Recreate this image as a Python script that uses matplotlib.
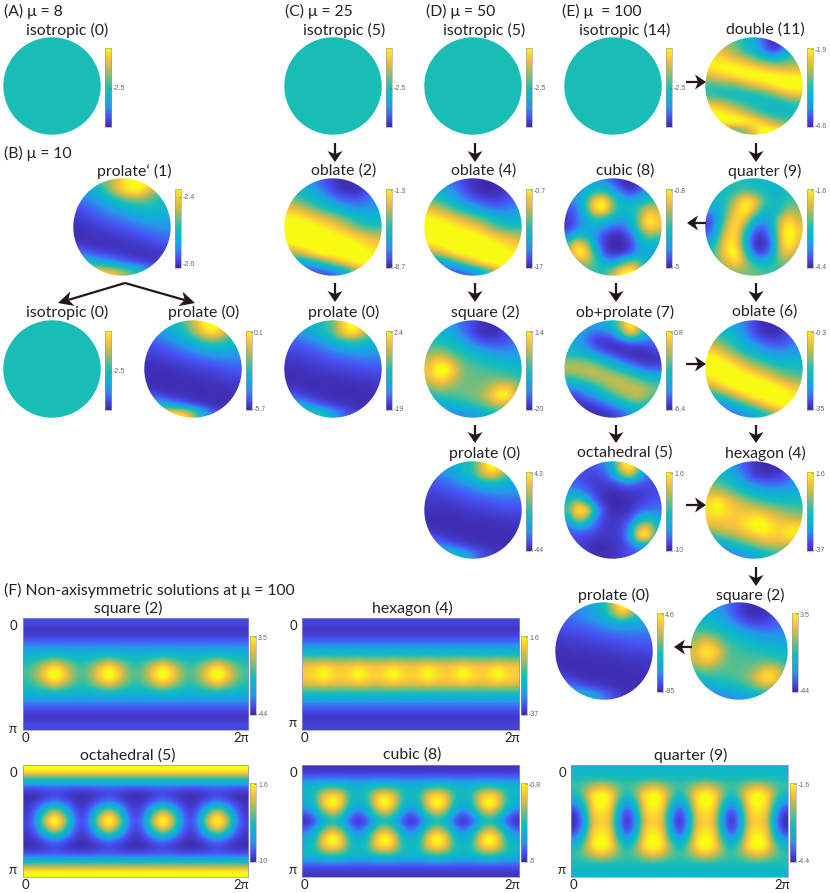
import numpy as np
import matplotlib.pyplot as plt
from matplotlib.colors import LinearSegmentedColormap
from matplotlib.patches import Circle, Polygon

plt.rcParams["font.family"] = ["Lato", "DejaVu Sans"]

W, H = 830, 893
DARK = "#231815"
PEAK = 95  # levels above this are full yellow

# parula-like colours as they look in the picture
parula = LinearSegmentedColormap.from_list("parula", [
    (0.2422, 0.1504, 0.6603), (0.2810, 0.3228, 0.9579), (0.1540, 0.5902, 0.9218),
    (0.0500, 0.7000, 0.8300), (0.1000, 0.7450, 0.7150), (0.4420, 0.7481, 0.5033),
    (0.7809, 0.7350, 0.2902), (0.9932, 0.7746, 0.2374), (0.9769, 0.9839, 0.0805),
])

# every level below is 0 (colorbar bottom) .. 100 (colorbar top)
ISO_LEVEL = 47.5

PROLATE_B1 = [
    [40, 45, 50, 60, 72, 86, 96, 100, 95, 85, 75],
    [25, 30, 36, 48, 68, 84, 94, 92, 75, 62, 55],
    [16, 20, 25, 31, 40, 50, 58, 60, 56, 48, 44],
    [10, 13, 17, 22, 27, 33, 38, 42, 44, 42, 38],
    [6, 8, 11, 14, 17, 20, 24, 28, 31, 32, 30],
    [3, 4, 6, 8, 10, 12, 15, 18, 21, 23, 24],
    [2, 3, 4, 4, 5, 7, 9, 11, 13, 16, 17],
    [5, 4, 3, 3, 3, 3, 4, 5, 7, 9, 11],
    [20, 16, 12, 9, 7, 5, 4, 3, 3, 4, 5],
    [45, 42, 36, 30, 24, 18, 13, 9, 6, 5, 5],
    [90, 90, 88, 85, 80, 70, 58, 45, 30, 20, 12],
]
PROLATE_B0 = [
    [30, 32, 36, 45, 55, 70, 90, 100, 95, 85, 70],
    [20, 24, 28, 34, 44, 60, 78, 90, 82, 62, 50],
    [12, 15, 18, 23, 30, 38, 48, 54, 52, 45, 40],
    [8, 9, 11, 14, 17, 22, 27, 30, 33, 30, 28],
    [4, 5, 7, 8, 10, 12, 14, 16, 18, 20, 20],
    [2, 3, 3, 4, 5, 6, 8, 9, 11, 12, 13],
    [2, 2, 2, 2, 3, 3, 4, 5, 6, 7, 8],
    [3, 2, 2, 2, 2, 2, 2, 3, 3, 4, 5],
    [12, 9, 6, 4, 3, 2, 2, 2, 2, 2, 3],
    [40, 38, 30, 22, 15, 9, 5, 3, 2, 2, 2],
    [95, 95, 95, 95, 90, 70, 40, 20, 10, 5, 3],
]
OBLATE_C = [
    [30, 28, 25, 20, 12, 6, 2, 2, 4, 10, 15],
    [45, 42, 38, 30, 20, 10, 4, 2, 4, 12, 20],
    [62, 58, 50, 40, 32, 24, 17, 14, 14, 18, 24],
    [82, 78, 70, 60, 50, 42, 34, 28, 24, 26, 30],
    [96, 94, 90, 84, 76, 70, 60, 50, 42, 38, 38],
    [100, 100, 98, 96, 92, 86, 78, 68, 56, 50, 50],
    [100, 100, 100, 100, 100, 98, 94, 88, 82, 76, 72],
    [92, 96, 100, 100, 100, 100, 100, 98, 94, 88, 84],
    [60, 70, 80, 92, 100, 100, 100, 100, 100, 96, 92],
    [20, 25, 32, 38, 52, 68, 82, 92, 96, 96, 95],
    [5, 6, 8, 10, 12, 16, 25, 45, 70, 90, 95],
]
PROLATE_C = [
    [25, 28, 32, 40, 50, 58, 82, 100, 92, 75, 60],
    [20, 24, 28, 34, 44, 56, 80, 92, 82, 60, 48],
    [12, 14, 17, 22, 28, 36, 44, 48, 46, 40, 36],
    [8, 9, 11, 13, 16, 20, 24, 27, 28, 27, 26],
    [5, 6, 7, 8, 10, 12, 14, 15, 17, 18, 18],
    [3, 3, 4, 5, 6, 7, 8, 9, 10, 11, 12],
    [2, 2, 2, 3, 3, 3, 4, 5, 6, 6, 7],
    [4, 3, 2, 2, 2, 2, 2, 2, 3, 3, 4],
    [14, 10, 7, 4, 3, 2, 2, 2, 2, 2, 3],
    [35, 30, 24, 16, 10, 6, 4, 3, 2, 2, 2],
    [75, 70, 62, 55, 45, 30, 18, 10, 6, 4, 3],
]
OBLATE_D = [
    [25, 22, 18, 14, 8, 3, 1, 1, 3, 8, 12],
    [40, 35, 30, 22, 12, 5, 2, 1, 2, 8, 14],
    [58, 52, 44, 32, 22, 15, 10, 8, 8, 12, 18],
    [80, 74, 64, 52, 42, 34, 26, 20, 18, 20, 24],
    [95, 92, 87, 80, 72, 64, 54, 44, 36, 32, 34],
    [100, 100, 97, 94, 90, 84, 76, 64, 54, 48, 48],
    [100, 100, 100, 100, 100, 98, 94, 88, 80, 74, 70],
    [90, 95, 100, 100, 100, 100, 100, 98, 94, 88, 84],
    [58, 68, 80, 92, 100, 100, 100, 100, 100, 96, 94],
    [20, 24, 32, 45, 62, 78, 92, 100, 100, 100, 98],
    [5, 6, 8, 10, 14, 20, 32, 52, 75, 92, 95],
]
SQUARE_D = [
    [30, 28, 26, 22, 15, 8, 3, 2, 3, 8, 12],
    [40, 38, 34, 28, 18, 8, 3, 2, 4, 10, 15],
    [50, 48, 44, 38, 30, 20, 12, 10, 10, 14, 18],
    [60, 62, 58, 50, 44, 36, 30, 25, 22, 22, 24],
    [72, 85, 80, 65, 54, 50, 44, 40, 36, 34, 34],
    [80, 98, 100, 80, 60, 56, 54, 52, 48, 46, 44],
    [78, 90, 88, 72, 60, 58, 58, 58, 58, 56, 50],
    [60, 70, 68, 62, 60, 60, 62, 70, 82, 82, 66],
    [44, 50, 52, 54, 58, 60, 66, 82, 98, 95, 70],
    [28, 32, 36, 40, 44, 50, 56, 66, 74, 70, 55],
    [12, 14, 18, 22, 24, 26, 32, 38, 42, 40, 35],
]
PROLATE_D = [
    [22, 24, 28, 34, 42, 50, 78, 100, 90, 70, 55],
    [18, 21, 25, 31, 40, 50, 72, 86, 72, 52, 42],
    [11, 13, 15, 19, 24, 30, 38, 42, 40, 34, 30],
    [8, 8, 10, 12, 14, 17, 20, 23, 24, 24, 23],
    [5, 5, 6, 7, 9, 10, 12, 13, 15, 16, 16],
    [3, 3, 3, 4, 5, 6, 7, 8, 9, 10, 10],
    [2, 2, 2, 2, 3, 3, 3, 4, 5, 5, 6],
    [3, 2, 2, 2, 2, 2, 2, 2, 2, 3, 3],
    [11, 8, 5, 3, 2, 2, 2, 2, 2, 2, 2],
    [28, 24, 18, 12, 8, 5, 3, 2, 2, 2, 2],
    [55, 52, 48, 42, 35, 22, 12, 7, 4, 3, 2],
]
DOUBLE_E = [
    [60, 60, 60, 55, 45, 32, 15, 2, 5, 25, 40],
    [80, 78, 72, 62, 48, 38, 20, 6, 14, 36, 48],
    [92, 90, 85, 80, 72, 62, 52, 45, 46, 54, 62],
    [90, 96, 98, 98, 94, 90, 84, 78, 74, 74, 74],
    [72, 78, 84, 90, 96, 98, 100, 100, 98, 96, 94],
    [50, 52, 54, 58, 66, 74, 82, 90, 96, 100, 100],
    [50, 46, 44, 42, 42, 44, 48, 56, 68, 78, 80],
    [80, 76, 68, 58, 50, 44, 42, 40, 42, 46, 50],
    [98, 96, 90, 84, 72, 60, 50, 44, 42, 42, 44],
    [100, 100, 100, 100, 100, 94, 82, 70, 60, 52, 48],
    [50, 50, 52, 55, 60, 80, 100, 100, 95, 80, 60],
]
QUARTER_E = [
    [50, 50, 50, 48, 46, 44, 42, 40, 40, 42, 42],
    [50, 45, 45, 50, 56, 52, 44, 40, 40, 45, 45],
    [42, 40, 50, 72, 92, 86, 58, 44, 44, 52, 55],
    [28, 32, 58, 82, 98, 78, 48, 38, 46, 65, 62],
    [10, 30, 65, 88, 84, 46, 28, 38, 70, 85, 70],
    [8, 38, 75, 92, 58, 22, 14, 32, 80, 98, 80],
    [18, 50, 85, 90, 42, 8, 4, 24, 82, 100, 82],
    [32, 62, 92, 90, 40, 4, 1, 16, 78, 96, 76],
    [45, 65, 90, 100, 56, 16, 8, 28, 72, 80, 60],
    [50, 62, 75, 88, 70, 46, 36, 46, 60, 60, 50],
    [50, 55, 60, 62, 62, 60, 55, 52, 50, 48, 45],
]
CUBIC_E = [
    [35, 35, 32, 28, 22, 12, 3, 1, 5, 20, 30],
    [30, 28, 32, 45, 48, 32, 15, 5, 15, 30, 35],
    [22, 24, 50, 88, 92, 58, 35, 32, 38, 45, 50],
    [12, 18, 50, 92, 98, 60, 42, 42, 55, 78, 70],
    [6, 16, 32, 52, 50, 36, 32, 36, 65, 96, 82],
    [4, 18, 30, 32, 24, 14, 14, 28, 62, 92, 80],
    [22, 45, 42, 24, 8, 2, 3, 14, 40, 60, 55],
    [60, 92, 72, 30, 6, 0, 1, 6, 28, 40, 35],
    [65, 95, 90, 45, 12, 3, 5, 14, 32, 34, 25],
    [50, 65, 70, 55, 34, 28, 50, 68, 55, 34, 20],
    [40, 45, 48, 48, 50, 70, 92, 100, 80, 35, 20],
]
OBPROLATE_E = [
    [30, 30, 30, 30, 32, 45, 70, 100, 70, 45, 35],
    [30, 28, 22, 14, 16, 22, 55, 85, 60, 30, 25],
    [35, 30, 18, 6, 3, 5, 8, 14, 14, 15, 18],
    [40, 35, 30, 20, 10, 4, 2, 2, 2, 4, 8],
    [60, 60, 55, 48, 35, 25, 15, 8, 3, 2, 3],
    [72, 72, 72, 70, 62, 52, 42, 32, 22, 14, 14],
    [50, 55, 62, 68, 72, 72, 68, 60, 50, 42, 40],
    [25, 28, 36, 45, 58, 68, 72, 72, 70, 62, 58],
    [6, 10, 18, 26, 38, 50, 62, 70, 72, 62, 55],
    [3, 3, 4, 8, 14, 24, 34, 45, 50, 42, 38],
    [2, 2, 2, 2, 3, 6, 12, 22, 30, 30, 30],
]
OBLATE_E = [
    [40, 38, 34, 28, 18, 8, 2, 1, 3, 10, 18],
    [50, 48, 42, 34, 22, 10, 4, 2, 4, 12, 20],
    [68, 62, 52, 42, 32, 22, 14, 10, 10, 15, 22],
    [88, 80, 68, 56, 45, 36, 28, 24, 22, 24, 28],
    [100, 98, 88, 78, 66, 56, 48, 40, 36, 36, 38],
    [100, 100, 100, 94, 85, 76, 68, 60, 52, 50, 48],
    [90, 95, 100, 100, 100, 96, 90, 80, 70, 62, 58],
    [70, 80, 92, 98, 100, 100, 100, 100, 94, 84, 78],
    [42, 48, 60, 75, 88, 98, 100, 100, 100, 96, 90],
    [20, 22, 28, 38, 52, 66, 80, 90, 96, 96, 90],
    [8, 10, 14, 18, 24, 30, 42, 58, 72, 80, 80],
]
OCTAHEDRAL_E = [
    [12, 12, 12, 14, 20, 40, 85, 100, 60, 25, 15],
    [10, 10, 8, 8, 12, 28, 65, 80, 42, 15, 12],
    [14, 14, 10, 6, 6, 8, 14, 18, 12, 10, 10],
    [28, 25, 16, 8, 3, 2, 3, 5, 6, 8, 10],
    [45, 65, 40, 12, 4, 1, 1, 3, 6, 10, 12],
    [55, 98, 95, 38, 8, 2, 2, 4, 12, 18, 18],
    [35, 72, 60, 22, 8, 4, 6, 12, 35, 45, 35],
    [14, 25, 22, 12, 6, 5, 8, 28, 80, 82, 45],
    [8, 10, 8, 6, 4, 5, 8, 32, 95, 92, 38],
    [8, 8, 5, 2, 1, 3, 6, 14, 30, 28, 18],
    [8, 8, 6, 3, 2, 4, 8, 10, 12, 14, 12],
]
HEXAGON_E = [
    [35, 32, 28, 22, 12, 5, 2, 1, 3, 10, 18],
    [45, 42, 36, 28, 16, 6, 3, 3, 6, 14, 22],
    [60, 55, 48, 38, 28, 20, 16, 15, 16, 20, 26],
    [72, 72, 64, 55, 45, 38, 33, 30, 30, 32, 35],
    [88, 95, 84, 74, 66, 58, 52, 48, 44, 44, 44],
    [90, 96, 88, 82, 80, 78, 74, 68, 62, 58, 56],
    [85, 86, 84, 84, 88, 94, 92, 84, 78, 74, 70],
    [70, 74, 78, 82, 88, 96, 100, 92, 86, 92, 92],
    [50, 54, 60, 66, 74, 80, 85, 85, 85, 92, 90],
    [25, 28, 34, 42, 50, 58, 66, 70, 70, 68, 66],
    [10, 12, 15, 20, 25, 30, 38, 44, 48, 48, 48],
]
PROLATE_E = [
    [18, 20, 22, 26, 32, 42, 72, 100, 88, 62, 45],
    [15, 17, 20, 24, 30, 40, 58, 76, 62, 42, 34],
    [12, 13, 15, 17, 20, 24, 28, 31, 30, 27, 25],
    [8, 9, 10, 11, 13, 15, 17, 18, 19, 19, 19],
    [5, 6, 6, 7, 8, 9, 10, 11, 12, 13, 13],
    [3, 3, 4, 4, 5, 5, 6, 7, 8, 8, 9],
    [2, 2, 2, 2, 3, 3, 3, 4, 4, 5, 5],
    [3, 2, 2, 2, 2, 2, 2, 2, 3, 3, 4],
    [9, 7, 4, 3, 2, 2, 2, 2, 2, 2, 3],
    [22, 20, 15, 10, 7, 5, 3, 2, 2, 2, 2],
    [50, 48, 42, 36, 30, 20, 11, 6, 4, 3, 2],
]
SQUARE_E = [
    [30, 28, 26, 22, 15, 8, 3, 2, 3, 8, 12],
    [38, 36, 32, 28, 18, 8, 3, 2, 4, 10, 15],
    [46, 44, 42, 36, 28, 20, 12, 10, 10, 14, 18],
    [56, 58, 54, 48, 42, 34, 28, 24, 22, 22, 24],
    [66, 80, 76, 60, 50, 46, 40, 36, 34, 32, 32],
    [76, 92, 92, 74, 56, 52, 50, 48, 44, 42, 40],
    [72, 84, 82, 66, 56, 54, 54, 54, 54, 52, 46],
    [56, 64, 62, 58, 56, 56, 58, 66, 78, 78, 62],
    [40, 46, 48, 50, 52, 56, 62, 78, 96, 90, 66],
    [26, 30, 34, 38, 40, 46, 52, 62, 70, 66, 52],
    [10, 12, 16, 20, 22, 24, 30, 36, 40, 38, 34],
]

# unrolled maps, theta from top to bottom and phi from left to right
MAP_SQUARE = [
    [10, 10, 10, 10, 10, 10, 10, 10, 10, 10, 10, 10, 10, 10, 10, 10, 10, 10, 10, 10, 10, 10, 10, 10, 10],
    [3, 3, 3, 3, 3, 3, 3, 3, 3, 3, 3, 3, 3, 3, 3, 3, 3, 3, 3, 3, 3, 3, 3, 3, 3],
    [11, 11, 11, 11, 11, 11, 11, 11, 11, 11, 11, 11, 11, 11, 11, 11, 11, 11, 11, 11, 11, 11, 11, 11, 11],
    [25, 25, 25, 25, 25, 25, 25, 25, 25, 25, 25, 25, 25, 25, 25, 25, 25, 25, 25, 25, 25, 25, 25, 25, 25],
    [40, 42, 45, 48, 45, 42, 40, 42, 45, 48, 45, 42, 40, 42, 45, 48, 45, 42, 40, 42, 45, 48, 45, 42, 40],
    [50, 58, 74, 88, 74, 58, 50, 58, 74, 88, 74, 58, 50, 58, 74, 88, 74, 58, 50, 58, 74, 88, 74, 58, 50],
    [54, 66, 90, 104, 90, 66, 54, 66, 90, 104, 90, 66, 54, 66, 90, 104, 90, 66, 54, 66, 90, 104, 90, 66, 54],
    [50, 58, 74, 88, 74, 58, 50, 58, 74, 88, 74, 58, 50, 58, 74, 88, 74, 58, 50, 58, 74, 88, 74, 58, 50],
    [40, 42, 45, 48, 45, 42, 40, 42, 45, 48, 45, 42, 40, 42, 45, 48, 45, 42, 40, 42, 45, 48, 45, 42, 40],
    [25, 25, 25, 25, 25, 25, 25, 25, 25, 25, 25, 25, 25, 25, 25, 25, 25, 25, 25, 25, 25, 25, 25, 25, 25],
    [11, 11, 11, 11, 11, 11, 11, 11, 11, 11, 11, 11, 11, 11, 11, 11, 11, 11, 11, 11, 11, 11, 11, 11, 11],
    [3, 3, 3, 3, 3, 3, 3, 3, 3, 3, 3, 3, 3, 3, 3, 3, 3, 3, 3, 3, 3, 3, 3, 3, 3],
    [10, 10, 10, 10, 10, 10, 10, 10, 10, 10, 10, 10, 10, 10, 10, 10, 10, 10, 10, 10, 10, 10, 10, 10, 10],
]
MAP_HEXAGON = [
    [8, 8, 8, 8, 8, 8, 8, 8, 8, 8, 8, 8, 8, 8, 8, 8, 8, 8, 8, 8, 8, 8, 8, 8, 8],
    [4, 4, 4, 4, 4, 4, 4, 4, 4, 4, 4, 4, 4, 4, 4, 4, 4, 4, 4, 4, 4, 4, 4, 4, 4],
    [12, 12, 12, 12, 12, 12, 12, 12, 12, 12, 12, 12, 12, 12, 12, 12, 12, 12, 12, 12, 12, 12, 12, 12, 12],
    [28, 28, 28, 28, 28, 28, 28, 28, 28, 28, 28, 28, 28, 28, 28, 28, 28, 28, 28, 28, 28, 28, 28, 28, 28],
    [52, 52, 53, 52, 52, 52, 53, 52, 52, 52, 53, 52, 52, 52, 53, 52, 52, 52, 53, 52, 52, 52, 53, 52, 52],
    [80, 82, 86, 82, 80, 82, 86, 82, 80, 82, 86, 82, 80, 82, 86, 82, 80, 82, 86, 82, 80, 82, 86, 82, 80],
    [86, 90, 100, 90, 86, 90, 100, 90, 86, 90, 100, 90, 86, 90, 100, 90, 86, 90, 100, 90, 86, 90, 100, 90, 86],
    [80, 82, 86, 82, 80, 82, 86, 82, 80, 82, 86, 82, 80, 82, 86, 82, 80, 82, 86, 82, 80, 82, 86, 82, 80],
    [52, 52, 53, 52, 52, 52, 53, 52, 52, 52, 53, 52, 52, 52, 53, 52, 52, 52, 53, 52, 52, 52, 53, 52, 52],
    [28, 28, 28, 28, 28, 28, 28, 28, 28, 28, 28, 28, 28, 28, 28, 28, 28, 28, 28, 28, 28, 28, 28, 28, 28],
    [12, 12, 12, 12, 12, 12, 12, 12, 12, 12, 12, 12, 12, 12, 12, 12, 12, 12, 12, 12, 12, 12, 12, 12, 12],
    [4, 4, 4, 4, 4, 4, 4, 4, 4, 4, 4, 4, 4, 4, 4, 4, 4, 4, 4, 4, 4, 4, 4, 4, 4],
    [8, 8, 8, 8, 8, 8, 8, 8, 8, 8, 8, 8, 8, 8, 8, 8, 8, 8, 8, 8, 8, 8, 8, 8, 8],
]
MAP_OCTAHEDRAL = [
    [100, 100, 100, 100, 100, 100, 100, 100, 100, 100, 100, 100, 100, 100, 100, 100, 100, 100, 100, 100, 100, 100, 100, 100, 100],
    [55, 55, 55, 55, 55, 55, 55, 55, 55, 55, 55, 55, 55, 55, 55, 55, 55, 55, 55, 55, 55, 55, 55, 55, 55],
    [14, 14, 15, 15, 15, 14, 14, 14, 15, 15, 15, 14, 14, 14, 15, 15, 15, 14, 14, 14, 15, 15, 15, 14, 14],
    [1, 2, 5, 8, 5, 2, 1, 2, 5, 8, 5, 2, 1, 2, 5, 8, 5, 2, 1, 2, 5, 8, 5, 2, 1],
    [3, 8, 18, 26, 18, 8, 3, 8, 18, 26, 18, 8, 3, 8, 18, 26, 18, 8, 3, 8, 18, 26, 18, 8, 3],
    [6, 18, 54, 80, 54, 18, 6, 18, 54, 80, 54, 18, 6, 18, 54, 80, 54, 18, 6, 18, 54, 80, 54, 18, 6],
    [8, 26, 80, 106, 80, 26, 8, 26, 80, 106, 80, 26, 8, 26, 80, 106, 80, 26, 8, 26, 80, 106, 80, 26, 8],
    [6, 18, 54, 80, 54, 18, 6, 18, 54, 80, 54, 18, 6, 18, 54, 80, 54, 18, 6, 18, 54, 80, 54, 18, 6],
    [3, 8, 18, 26, 18, 8, 3, 8, 18, 26, 18, 8, 3, 8, 18, 26, 18, 8, 3, 8, 18, 26, 18, 8, 3],
    [1, 2, 5, 8, 5, 2, 1, 2, 5, 8, 5, 2, 1, 2, 5, 8, 5, 2, 1, 2, 5, 8, 5, 2, 1],
    [14, 14, 15, 15, 15, 14, 14, 14, 15, 15, 15, 14, 14, 14, 15, 15, 15, 14, 14, 14, 15, 15, 15, 14, 14],
    [55, 55, 55, 55, 55, 55, 55, 55, 55, 55, 55, 55, 55, 55, 55, 55, 55, 55, 55, 55, 55, 55, 55, 55, 55],
    [100, 100, 100, 100, 100, 100, 100, 100, 100, 100, 100, 100, 100, 100, 100, 100, 100, 100, 100, 100, 100, 100, 100, 100, 100],
]
MAP_CUBIC = [
    [4, 4, 4, 4, 4, 4, 4, 4, 4, 4, 4, 4, 4, 4, 4, 4, 4, 4, 4, 4, 4, 4, 4, 4, 4],
    [15, 15, 15, 15, 15, 15, 15, 15, 15, 15, 15, 15, 15, 15, 15, 15, 15, 15, 15, 15, 15, 15, 15, 15, 15],
    [40, 40, 46, 50, 46, 40, 40, 40, 46, 50, 46, 40, 40, 40, 46, 50, 46, 40, 40, 40, 46, 50, 46, 40, 40],
    [40, 50, 80, 90, 80, 50, 40, 50, 80, 90, 80, 50, 40, 50, 80, 90, 80, 50, 40, 50, 80, 90, 80, 50, 40],
    [34, 45, 85, 104, 85, 45, 34, 45, 85, 104, 85, 45, 34, 45, 85, 104, 85, 45, 34, 45, 85, 104, 85, 45, 34],
    [14, 30, 58, 75, 58, 30, 14, 30, 58, 75, 58, 30, 14, 30, 58, 75, 58, 30, 14, 30, 58, 75, 58, 30, 14],
    [1, 10, 34, 44, 34, 10, 1, 10, 34, 44, 34, 10, 1, 10, 34, 44, 34, 10, 1, 10, 34, 44, 34, 10, 1],
    [14, 30, 58, 75, 58, 30, 14, 30, 58, 75, 58, 30, 14, 30, 58, 75, 58, 30, 14, 30, 58, 75, 58, 30, 14],
    [34, 45, 85, 104, 85, 45, 34, 45, 85, 104, 85, 45, 34, 45, 85, 104, 85, 45, 34, 45, 85, 104, 85, 45, 34],
    [40, 50, 80, 90, 80, 50, 40, 50, 80, 90, 80, 50, 40, 50, 80, 90, 80, 50, 40, 50, 80, 90, 80, 50, 40],
    [40, 40, 46, 50, 46, 40, 40, 40, 46, 50, 46, 40, 40, 40, 46, 50, 46, 40, 40, 40, 46, 50, 46, 40, 40],
    [15, 15, 15, 15, 15, 15, 15, 15, 15, 15, 15, 15, 15, 15, 15, 15, 15, 15, 15, 15, 15, 15, 15, 15, 15],
    [4, 4, 4, 4, 4, 4, 4, 4, 4, 4, 4, 4, 4, 4, 4, 4, 4, 4, 4, 4, 4, 4, 4, 4, 4],
]
MAP_QUARTER = [
    [38, 38, 38, 38, 38, 38, 38, 38, 38, 38, 38, 38, 38, 38, 38, 38, 38, 38, 38, 38, 38, 38, 38, 38, 38],
    [46, 46, 46, 46, 46, 46, 46, 46, 46, 46, 46, 46, 46, 46, 46, 46, 46, 46, 46, 46, 46, 46, 46, 46, 46],
    [52, 58, 70, 78, 70, 58, 52, 58, 70, 78, 70, 58, 52, 58, 70, 78, 70, 58, 52, 58, 70, 78, 70, 58, 52],
    [42, 62, 92, 100, 92, 62, 42, 62, 92, 100, 92, 62, 42, 62, 92, 100, 92, 62, 42, 62, 92, 100, 92, 62, 42],
    [22, 46, 90, 98, 90, 46, 22, 46, 90, 98, 90, 46, 22, 46, 90, 98, 90, 46, 22, 46, 90, 98, 90, 46, 22],
    [5, 30, 84, 90, 84, 30, 5, 30, 84, 90, 84, 30, 5, 30, 84, 90, 84, 30, 5, 30, 84, 90, 84, 30, 5],
    [1, 24, 78, 86, 78, 24, 1, 24, 78, 86, 78, 24, 1, 24, 78, 86, 78, 24, 1, 24, 78, 86, 78, 24, 1],
    [5, 30, 84, 90, 84, 30, 5, 30, 84, 90, 84, 30, 5, 30, 84, 90, 84, 30, 5, 30, 84, 90, 84, 30, 5],
    [22, 46, 90, 98, 90, 46, 22, 46, 90, 98, 90, 46, 22, 46, 90, 98, 90, 46, 22, 46, 90, 98, 90, 46, 22],
    [42, 62, 92, 100, 92, 62, 42, 62, 92, 100, 92, 62, 42, 62, 92, 100, 92, 62, 42, 62, 92, 100, 92, 62, 42],
    [52, 58, 70, 78, 70, 58, 52, 58, 70, 78, 70, 58, 52, 58, 70, 78, 70, 58, 52, 58, 70, 78, 70, 58, 52],
    [46, 46, 46, 46, 46, 46, 46, 46, 46, 46, 46, 46, 46, 46, 46, 46, 46, 46, 46, 46, 46, 46, 46, 46, 46],
    [38, 38, 38, 38, 38, 38, 38, 38, 38, 38, 38, 38, 38, 38, 38, 38, 38, 38, 38, 38, 38, 38, 38, 38, 38],
]

fig = plt.figure(figsize=(W / 100, H / 100), dpi=100)
overlay = fig.add_axes([0, 0, 1, 1], zorder=10)
overlay.set_xlim(0, W)
overlay.set_ylim(H, 0)
overlay.axis("off")
overlay.patch.set_alpha(0)


def px_axes(x0, y0, x1, y1):
    """Axes placed by pixel box, y measured from the top of the figure."""
    return fig.add_axes([x0 / W, 1 - y1 / H, (x1 - x0) / W, (y1 - y0) / H])


def title(x, y, text):
    overlay.text(x, y, text, ha="center", va="center", fontsize=11.4, color="#222222")


def heading(x, y, text):
    overlay.text(x, y, text, ha="left", va="center", fontsize=11.3, color="#222222")


def colorbar(x0, y0, labels):
    ax = px_axes(x0, y0, x0 + 6, y0 + 79)
    gradient = np.linspace(100, 0, 256)[:, None]
    ax.imshow(gradient, cmap=parula, vmin=0, vmax=100, aspect="auto", extent=(0, 1, 0, 1))
    ax.set_xticks([])
    ax.yaxis.tick_right()
    if len(labels) == 1:
        ticks = [0.5]
    elif labels == ("-2.4", "-2.6"):
        ticks = [0.9, 0.06]
    else:
        ticks = [0.985, 0.015]
    ax.set_yticks(ticks, labels, family=["Liberation Sans"])
    ax.tick_params(axis="y", direction="in", length=1.2, width=0.4, pad=1.5,
                   labelsize=5, colors="#666666")
    for spine in ax.spines.values():
        spine.set_linewidth(0.4)
        spine.set_color("#999999")


def sphere(cx, cy, levels, labels):
    ax = px_axes(cx - 49, cy - 49, cx + 49, cy + 49)
    ax.axis("off")
    im = ax.imshow(np.array(levels, dtype=float), cmap=parula, vmin=0, vmax=PEAK,
                   extent=(0, 1, 1, 0), aspect="auto", interpolation="quadric")
    im.set_clip_path(Circle((0.5, 0.5), 0.497, transform=ax.transData))
    colorbar(cx + 53, cy - 38, labels)


def iso_sphere(cx, cy):
    sphere(cx, cy, [[ISO_LEVEL, ISO_LEVEL], [ISO_LEVEL, ISO_LEVEL]], ("-2.5",))


def flat_map(x0, y0, levels, labels):
    ax = px_axes(x0, y0, x0 + 225 if x0 < 100 else x0 + 217, y0 + 112)
    ax.imshow(np.array(levels, dtype=float), cmap=parula, vmin=0, vmax=PEAK,
              extent=(0, 1, 1, 0), aspect="auto", interpolation="quadric")
    ax.set_xticks([])
    ax.set_yticks([])
    for spine in ax.spines.values():
        spine.set_linewidth(0.5)
        spine.set_color("#8f8fd0")
    colorbar(x0 + 227 if x0 < 100 else x0 + 219, y0 + 18, labels)


def arrow(x0, y0, x1, y1, length=11, width=15):
    """Dark arrow with a notched head, in figure pixels."""
    d = np.array([x1 - x0, y1 - y0], dtype=float)
    d /= np.hypot(*d)
    n = np.array([-d[1], d[0]])
    tip = np.array([x1, y1], dtype=float)
    back = tip - d * length
    notch = tip - d * length * 0.72
    overlay.plot([x0, notch[0]], [y0, notch[1]], color=DARK, lw=1.6, solid_capstyle="butt")
    overlay.add_patch(Polygon([tip, back + n * width / 2, notch, back - n * width / 2],
                              closed=True, fc=DARK, ec="none"))


# (A)
heading(4, 11, "(A) μ = 8")
title(67, 30, "isotropic (0)")
iso_sphere(52, 86)

# (B)
heading(4, 153, "(B) μ = 10")
title(134, 171, "prolate‘ (1)")
sphere(122, 227, PROLATE_B1, ("-2.4", "-2.6"))
title(67, 312, "isotropic (0)")
iso_sphere(52, 369)
title(204, 312, "prolate (0)")
sphere(193, 369, PROLATE_B0, ("0.1", "-5.7"))
arrow(125, 283, 58, 303, length=15, width=15)
arrow(125, 283, 195, 303, length=15, width=15)

# (C)
heading(285, 11, "(C) μ = 25")
title(344, 30, "isotropic (5)")
iso_sphere(333, 86)
arrow(335, 143, 335, 162)
title(344, 171, "oblate (2)")
sphere(333, 227, OBLATE_C, ("-1.3", "-8.7"))
arrow(335, 283, 335, 302)
title(344, 312, "prolate (0)")
sphere(333, 369, PROLATE_C, ("2.4", "-19"))

# (D)
heading(426, 11, "(D) μ = 50")
title(484, 30, "isotropic (5)")
iso_sphere(473, 86)
arrow(475, 143, 475, 162)
title(484, 171, "oblate (4)")
sphere(473, 227, OBLATE_D, ("-0.7", "-17"))
arrow(475, 283, 475, 302)
title(485, 312, "square (2)")
sphere(473, 369, SQUARE_D, ("1.4", "-20"))
arrow(475, 425, 475, 443)
title(485, 453, "prolate (0)")
sphere(473, 510, PROLATE_D, ("4.3", "-44"))

# (E)
heading(562, 11, "(E) μ  = 100")
title(625, 30, "isotropic (14)")
iso_sphere(613, 86)
arrow(686, 82, 706, 82)
title(765, 30, "double (11)")
sphere(754, 86, DOUBLE_E, ("-1.9", "-4.6"))
arrow(756, 143, 756, 162)
title(765, 171, "quarter (9)")
sphere(754, 227, QUARTER_E, ("-1.6", "-4.4"))
arrow(706, 223, 687, 223)
title(625, 171, "cubic (8)")
sphere(613, 227, CUBIC_E, ("-0.8", "-5"))
arrow(616, 283, 616, 302)
title(625, 312, "ob+prolate (7)")
sphere(613, 369, OBPROLATE_E, ("0.8", "-6.4"))
arrow(686, 364, 706, 364)
title(765, 312, "oblate (6)")
sphere(754, 369, OBLATE_E, ("-0.3", "-35"))
arrow(756, 283, 756, 302)
arrow(616, 425, 616, 443)
title(625, 453, "octahedral (5)")
sphere(613, 510, OCTAHEDRAL_E, ("1.6", "-10"))
arrow(686, 505, 706, 505)
arrow(756, 425, 756, 443)
title(765, 453, "hexagon (4)")
sphere(754, 510, HEXAGON_E, ("1.6", "-37"))
arrow(756, 567, 756, 586)
title(750, 595, "square (2)")
sphere(739, 651, SQUARE_E, ("3.5", "-44"))
arrow(692, 647, 674, 647)
title(614, 595, "prolate (0)")
sphere(604, 651, PROLATE_E, ("4.6", "-95"))

# (F)
heading(4, 590, "(F) Non-axisymmetric solutions at μ = 100")
title(128, 608, "square (2)")
flat_map(23, 618, MAP_SQUARE, ("3.5", "-44"))
title(412, 608, "hexagon (4)")
flat_map(302, 618, MAP_HEXAGON, ("1.6", "-37"))
title(128, 756, "octahedral (5)")
flat_map(23, 765, MAP_OCTAHEDRAL, ("1.6", "-10"))
title(412, 755, "cubic (8)")
flat_map(302, 765, MAP_CUBIC, ("-0.8", "-5"))
title(691, 755, "quarter (9)")
flat_map(571, 765, MAP_QUARTER, ("-1.6", "-4.4"))

for tx, ty, s in [
    (13, 626, "0"), (13, 729, "π"), (25, 738, "0"), (241, 738, "2π"),
    (293, 626, "0"), (293, 723, "π"), (304, 738, "0"), (512, 738, "2π"),
    (13, 773, "0"), (13, 870, "π"), (25, 885, "0"), (241, 885, "2π"),
    (293, 773, "0"), (293, 870, "π"), (304, 885, "0"), (512, 885, "2π"),
    (562, 773, "0"), (562, 870, "π"), (573, 885, "0"), (782, 885, "2π"),
]:
    overlay.text(tx, ty, s, ha="center", va="center", fontsize=9.5, color="#222222")

fig.savefig("out.png", dpi=100)
